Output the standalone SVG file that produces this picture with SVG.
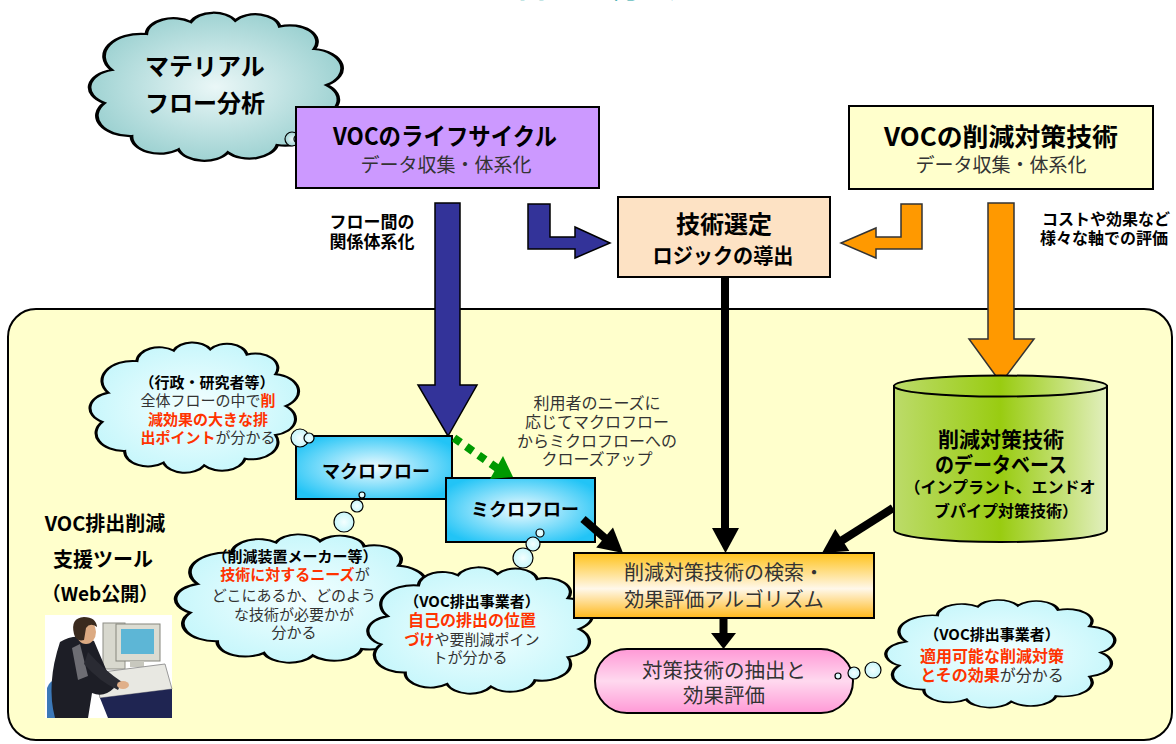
<svg xmlns="http://www.w3.org/2000/svg" width="1176" height="744" viewBox="0 0 1176 744">
<style>
  text { font-family: "Noto Sans CJK JP", "Liberation Sans", sans-serif; }
  .b { font-weight: 700; fill: #000; }
  .n { font-weight: 400; fill: #333; }
  .red { fill: #ff3300; font-weight: 700; }
  .box { stroke: #000; stroke-width: 2; }
  .cloud { stroke: #000; stroke-width: 1.5; vector-effect: non-scaling-stroke; }
  .bub { stroke: #000; stroke-width: 1.2; }
  .blk { stroke: #000; stroke-width: 8; fill: none; }
  .arrblue { fill: #333399; stroke: #000; stroke-width: 1.5; stroke-linejoin: miter; }
  .arrorg { fill: #ff9900; stroke: #333; stroke-width: 1.5; }
</style>
<defs>
  <path id="cloudShape" d="M8,40 A15,15 0 0 1 22,16 A11,11 0 0 1 40,8 A10,10 0 0 1 58,7 A10,10 0 0 1 76,11 A11,11 0 0 1 90,26 A13,13 0 0 1 95,50 A12.5,12.5 0 0 1 90,72 A13,13 0 0 1 75,90 A11.5,11.5 0 0 1 55,95 A11,11 0 0 1 35,93 A11.5,11.5 0 0 1 16,84 A13.5,13.5 0 0 1 5,62 A12,12 0 0 1 8,40 Z"/>
  <radialGradient id="gTeal" cx="50%" cy="50%" r="55%">
    <stop offset="0" stop-color="#eaf7f7"/>
    <stop offset="1" stop-color="#98cfcf"/>
  </radialGradient>
  <radialGradient id="gCyanCloud" cx="50%" cy="50%" r="55%">
    <stop offset="0" stop-color="#f4ffff"/>
    <stop offset="1" stop-color="#c4f6fb"/>
  </radialGradient>
  <radialGradient id="gFlowBox" cx="50%" cy="50%" r="60%">
    <stop offset="0" stop-color="#eefbff"/>
    <stop offset="1" stop-color="#22c4f6"/>
  </radialGradient>
  <linearGradient id="gSearch" x1="0" y1="0" x2="0" y2="1">
    <stop offset="0" stop-color="#ffc21a"/>
    <stop offset="0.55" stop-color="#fff8ea"/>
    <stop offset="1" stop-color="#ffb81a"/>
  </linearGradient>
  <linearGradient id="gPill" x1="0" y1="0" x2="0" y2="1">
    <stop offset="0" stop-color="#ff99d6"/>
    <stop offset="0.5" stop-color="#ffd9ef"/>
    <stop offset="1" stop-color="#ff99d6"/>
  </linearGradient>
  <linearGradient id="gCyl" x1="0" y1="0" x2="1" y2="0">
    <stop offset="0" stop-color="#bcdb6a"/>
    <stop offset="0.5" stop-color="#99cc11"/>
    <stop offset="1" stop-color="#e2efbe"/>
  </linearGradient>
</defs>

<rect width="1176" height="744" fill="#fff"/>

<!-- heading (runs off the top edge) -->
<text x="596" y="-3" font-size="32" font-weight="700" fill="#129e9e" text-anchor="middle">目的と方法</text>

<!-- tool panel background -->
<rect id="panel" x="8" y="309" width="1164" height="431" rx="28" fill="#ffffcc" stroke="#000" stroke-width="2"/>

<!-- material flow cloud -->
<g id="material-flow">
  <use href="#cloudShape" class="cloud" fill="url(#gTeal)" transform="translate(92,10) scale(2.47,1.5)"/>
  <text x="205" y="75" font-size="24" class="b" text-anchor="middle">マテリアル</text>
  <text x="205" y="112" font-size="24" class="b" text-anchor="middle">フロー分析</text>
  <circle cx="292" cy="139" r="7" fill="url(#gTeal)" class="bub"/>
  <circle cx="298" cy="139" r="4" fill="url(#gTeal)" class="bub"/>
</g>

<!-- lifecycle box -->
<g id="lifecycle">
  <rect x="296" y="107" width="303" height="81" fill="#cc99ff" class="box"/>
  <text x="445" y="145" font-size="24" class="b" text-anchor="middle" textLength="224" lengthAdjust="spacingAndGlyphs">VOCのライフサイクル</text>
  <text x="446" y="172" font-size="19" class="n" text-anchor="middle">データ収集・体系化</text>
</g>

<!-- reduction technology box -->
<g id="reduction-tech">
  <rect x="849" y="106" width="304" height="83" fill="#ffffcc" class="box"/>
  <text x="1001" y="146" font-size="25" class="b" text-anchor="middle" textLength="234" lengthAdjust="spacingAndGlyphs">VOCの削減対策技術</text>
  <text x="1001" y="172" font-size="19" class="n" text-anchor="middle">データ収集・体系化</text>
</g>

<!-- selection logic box -->
<g id="selection-logic">
  <rect x="618" y="197" width="212" height="80" fill="#fde2c4" class="box"/>
  <text x="724" y="233" font-size="24" class="b" text-anchor="middle">技術選定</text>
  <text x="723" y="263" font-size="21" class="b" text-anchor="middle" textLength="141" lengthAdjust="spacingAndGlyphs">ロジックの導出</text>
</g>

<!-- side labels -->
<g id="labels">
  <text x="372" y="228" font-size="17" class="b" text-anchor="middle">フロー間の</text>
  <text x="372" y="248" font-size="17" class="b" text-anchor="middle">関係体系化</text>
  <text x="1042" y="225" font-size="16" class="b">コストや効果など</text>
  <text x="1040" y="244" font-size="16" class="b">様々な軸での評価</text>
  <text x="597" y="409" font-size="16" class="n" text-anchor="middle">利用者のニーズに</text>
  <text x="597" y="428" font-size="16" class="n" text-anchor="middle">応じてマクロフロー</text>
  <text x="597" y="447" font-size="16" class="n" text-anchor="middle">からミクロフローへの</text>
  <text x="597" y="465" font-size="16" class="n" text-anchor="middle">クローズアップ</text>
  <text x="105" y="531" font-size="20" class="b" text-anchor="middle">VOC排出削減</text>
  <text x="103" y="567" font-size="20" class="b" text-anchor="middle">支援ツール</text>
  <text x="100" y="601" font-size="19" class="b" text-anchor="middle">（Web公開）</text>
</g>

<!-- user illustration -->
<g id="user-illustration">
  <rect x="45" y="615" width="127" height="103" fill="#fff"/>
  <rect x="103" y="623" width="22" height="46" fill="#d8d8ce" stroke="#8e8e86"/>
  <rect x="116" y="624" width="44" height="37" fill="#dcdcd2" stroke="#85857d"/>
  <rect x="121" y="629" width="33" height="25" fill="#5db6d6"/>
  <rect x="130" y="661" width="14" height="6" fill="#c8c8be"/>
  <polygon points="95,673 165,664 172,689 100,698" fill="#e8e8e2" stroke="#999"/>
  <polygon points="100,698 172,689 172,718 108,718" fill="#1f2552"/>
  <path d="M47,688 Q50,678 62,680 L84,684 Q88,700 84,718 H47 Z" fill="#3b78b8"/>
  <path d="M60,642 Q76,632 94,641 L114,688 Q104,698 92,693 L88,718 H55 Q46,684 60,642 Z" fill="#1d1e26"/>
  <path d="M72,648 L80,644 L88,676 L78,680 Z" fill="#6d6d73"/>
  <path d="M88,652 Q104,670 122,682 L118,690 Q100,682 84,664 Z" fill="#2a2b33"/>
  <ellipse cx="123" cy="685" rx="6" ry="4" fill="#e0b08a"/>
  <ellipse cx="86" cy="632" rx="10" ry="12" fill="#dcaa82"/>
  <path d="M74,634 Q70,618 84,617 Q96,617 97,627 Q90,622 86,628 L84,640 Q76,642 74,634 Z" fill="#3a2a1e"/>
</g>

<!-- connectors -->
<g id="connectors">
  <polygon class="arrblue" points="435,203 460,203 460,385 477,385 448,436 418,385 435,385"/>
  <polygon class="arrblue" points="528,204 550,204 550,237 575,237 575,227 610,243 575,258 575,249 528,249"/>
  <polygon class="arrorg" points="901,204 922,204 922,249 876,249 876,258 841,243 876,228 876,237 901,237"/>
  <polygon class="arrorg" points="988,203 1014,203 1014,339 1034,339 1001,383 969,339 988,339"/>
  <line class="blk" x1="725" y1="277" x2="725" y2="530"/>
  <polygon points="712,528 739,528 725.5,553" fill="#000"/>
</g>

<!-- stakeholder cloud: administration / researchers -->
<g id="cloud-admin">
  <use href="#cloudShape" class="cloud" fill="url(#gCyanCloud)" transform="translate(92,340) scale(2.04,1.32)"/>
  <text x="207" y="388" font-size="15" class="b" text-anchor="middle">（行政・研究者等）</text>
  <text x="208" y="406" font-size="15" class="n" text-anchor="middle">全体フローの中で<tspan class="red">削</tspan></text>
  <text x="208" y="425" font-size="15" class="red" text-anchor="middle">減効果の大きな排</text>
  <text x="208" y="443" font-size="15" class="n" text-anchor="middle"><tspan class="red">出ポイント</tspan>が分かる</text>
</g>

<!-- macro / micro flow boxes -->
<g id="macro-flow">
  <rect x="296" y="436" width="156" height="63" fill="url(#gFlowBox)" class="box"/>
  <text x="376" y="478" font-size="18" class="b" text-anchor="middle">マクロフロー</text>
</g>
<g id="admin-bubbles">
  <circle cx="300" cy="438" r="9" fill="url(#gCyanCloud)" class="bub"/>
  <circle cx="309" cy="438" r="5" fill="url(#gCyanCloud)" class="bub"/>
</g>
<g id="micro-flow">
  <rect x="446" y="478" width="149" height="64" fill="url(#gFlowBox)" class="box"/>
  <text x="525" y="516" font-size="18" class="b" text-anchor="middle">ミクロフロー</text>
</g>

<!-- zoom-in link -->
<g id="zoom-link">
  <line x1="454" y1="438" x2="497" y2="468" stroke="#009900" stroke-width="8" stroke-dasharray="8 7"/>
  <polygon points="503,456 490,479 513,477" fill="#009900"/>
</g>

<!-- stakeholder cloud: equipment makers -->
<g id="cloud-makers">
  <circle cx="362" cy="495" r="3" fill="url(#gCyanCloud)" class="bub"/>
  <circle cx="357" cy="506" r="6" fill="url(#gCyanCloud)" class="bub"/>
  <circle cx="344" cy="522" r="10" fill="url(#gCyanCloud)" class="bub"/>
  <use href="#cloudShape" class="cloud" fill="url(#gCyanCloud)" transform="translate(178,532) scale(2.45,1.3)"/>
  <text x="295" y="562" font-size="15" class="b" text-anchor="middle">（削減装置メーカー等）</text>
  <text x="295" y="580" font-size="15" class="n" text-anchor="middle"><tspan class="red">技術に対するニーズ</tspan>が</text>
  <text x="294" y="601" font-size="15" class="n" text-anchor="middle">どこにあるか、どのよう</text>
  <text x="294" y="620" font-size="15" class="n" text-anchor="middle">な技術が必要かが</text>
  <text x="294" y="638" font-size="15" class="n" text-anchor="middle">分かる</text>
</g>

<!-- stakeholder cloud: emitters (micro flow) -->
<g id="cloud-emitters-1">
  <circle cx="540" cy="533" r="4" fill="url(#gCyanCloud)" class="bub"/>
  <circle cx="533" cy="544" r="7" fill="url(#gCyanCloud)" class="bub"/>
  <circle cx="523" cy="558" r="10" fill="url(#gCyanCloud)" class="bub"/>
  <use href="#cloudShape" class="cloud" fill="url(#gCyanCloud)" transform="translate(370,565) scale(2.2,1.28)"/>
  <text x="472" y="607" font-size="15" class="b" text-anchor="middle">（VOC排出事業者）</text>
  <text x="472" y="626" font-size="16" class="red" text-anchor="middle">自己の排出の位置</text>
  <text x="472" y="645" font-size="15" class="n" text-anchor="middle"><tspan class="red">づけ</tspan>や要削減ポイン</text>
  <text x="470" y="663" font-size="15" class="n" text-anchor="middle">トが分かる</text>
</g>

<!-- search algorithm -->
<g id="search-algorithm">
  <rect x="574" y="553" width="300" height="65" fill="url(#gSearch)" class="box"/>
  <text x="724" y="580" font-size="20" class="n" text-anchor="middle">削減対策技術の検索・</text>
  <text x="724" y="607" font-size="20" class="n" text-anchor="middle">効果評価アルゴリズム</text>
</g>

<!-- technology database -->
<g id="tech-database">
  <path d="M894,386 V530 A106.5,12 0 0 0 1107,530 V386 Z" fill="url(#gCyl)" stroke="#000" stroke-width="2"/>
  <ellipse cx="1000.5" cy="386" rx="106.5" ry="10.5" fill="url(#gCyl)" stroke="#000" stroke-width="2"/>
  <text x="1001" y="447" font-size="21" class="b" text-anchor="middle">削減対策技術</text>
  <text x="1001" y="472" font-size="21" class="b" text-anchor="middle" textLength="132" lengthAdjust="spacingAndGlyphs">のデータベース</text>
  <text x="1000" y="493" font-size="16" class="b" text-anchor="middle">（インプラント、エンドオ</text>
  <text x="1006" y="517" font-size="16" class="b" text-anchor="middle">ブパイプ対策技術）</text>
</g>

<!-- result pill -->
<g id="result">
  <rect x="595" y="649" width="258" height="64" rx="32" fill="url(#gPill)" class="box"/>
  <text x="724" y="678" font-size="20.5" class="n" text-anchor="middle">対策技術の抽出と</text>
  <text x="724" y="703" font-size="20.5" class="n" text-anchor="middle">効果評価</text>
</g>

<!-- stakeholder cloud: emitters (results) -->
<g id="cloud-emitters-2">
  <circle cx="838" cy="676" r="3" fill="url(#gCyanCloud)" class="bub"/>
  <circle cx="854" cy="673" r="6" fill="url(#gCyanCloud)" class="bub"/>
  <circle cx="873" cy="670" r="8" fill="url(#gCyanCloud)" class="bub"/>
  <use href="#cloudShape" class="cloud" fill="url(#gCyanCloud)" transform="translate(888,598) scale(2.24,1.09)"/>
  <text x="992" y="640" font-size="15" class="b" text-anchor="middle">（VOC排出事業者）</text>
  <text x="992" y="662" font-size="16" class="red" text-anchor="middle">適用可能な削減対策</text>
  <text x="992" y="681" font-size="16" class="n" text-anchor="middle"><tspan class="red">とその効果</tspan>が分かる</text>
</g>

<!-- arrows into and out of the search algorithm -->
<g id="connectors-lower">
  <line class="blk" x1="583" y1="519" x2="606" y2="539"/>
  <polygon points="613,527.6 596.2,547.4 623,553" fill="#000"/>
  <line class="blk" x1="893" y1="508" x2="841" y2="541"/>
  <polygon points="835.3,529.1 849.3,551.1 822,553" fill="#000"/>
  <line class="blk" x1="723.5" y1="618" x2="723.5" y2="635"/>
  <polygon points="711,633 736,633 723.5,649" fill="#000"/>
</g>
</svg>
